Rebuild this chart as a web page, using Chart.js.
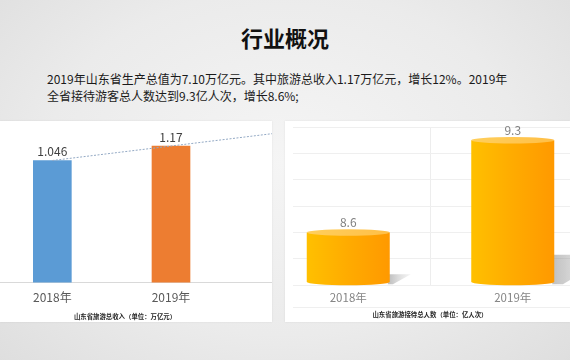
<!DOCTYPE html>
<html>
<head>
<meta charset="utf-8">
<script src="https://cdn.jsdelivr.net/npm/chart.js@4.4.1/dist/chart.umd.min.js"></script>
<style>
  html,body{margin:0;padding:0;}
  body{width:570px;height:360px;overflow:hidden;position:relative;
    background:radial-gradient(ellipse 70% 80% at 50% 45%, #f5f5f5 0%, #ebebeb 60%, #dedede 100%);
    font-family:"Noto Sans CJK SC","Noto Sans",sans-serif;}
  #title{position:absolute;left:0;width:570px;top:23px;text-align:center;font-size:22px;font-weight:bold;color:#111;line-height:28px;}
  #para{position:absolute;left:47px;top:70px;width:500px;font-size:12px;line-height:17px;color:#1a1a1a;}
  .panel{position:absolute;background:#fff;overflow:hidden;box-shadow:0 0 2px rgba(0,0,0,0.08);}
  #leftPanel{left:0;top:121px;width:272px;height:201px;}
  #rightPanel{left:285px;top:121px;width:285px;height:201px;}
  #leftCanvasWrap{position:absolute;left:-7px;top:4px;width:356px;height:188px;}
  #rightClip{position:absolute;left:8px;top:0;width:277px;height:201px;overflow:hidden;}
  #rightCanvasWrap{position:absolute;left:-27px;top:4px;width:329px;height:186px;}
  .cap{position:absolute;font-size:6.4px;font-weight:bold;color:#262626;white-space:nowrap;transform:translateX(-50%);}
  #rightLine{position:absolute;left:0;top:186px;width:277px;height:1px;background:#efefef;}
</style>
</head>
<body>
<div id="title">行业概况</div>
<div id="para">2019年山东省生产总值为7.10万亿元。其中旅游总收入1.17万亿元，增长12%。2019年<br>全省接待游客总人数达到9.3亿人次，增长8.6%;</div>

<div id="leftPanel" class="panel">
  <div id="leftCanvasWrap"><canvas id="leftChart" width="356" height="188"></canvas></div>
  <div class="cap" style="left:125px;top:191px;">山东省旅游总收入（单位：万亿元）</div>
</div>

<div id="rightPanel" class="panel">
  <div id="rightClip">
    <div id="rightLine"></div>
    <div id="rightCanvasWrap"><canvas id="rightChart" width="329" height="186"></canvas></div>
  </div>
  <div class="cap" style="left:145px;top:189px;">山东省旅游接待总人数（单位：亿人次）</div>
</div>

<script>
// ---- data ----
const incomeLabels = ['2018年', '2019年', ''];
const incomeValues = [1.046, 1.17, null];
const incomeValueText = ['1.046', '1.17'];
const incomeTrend = [1.046, 1.17, 1.294];

const visitorLabels = ['2018年', '2019年'];
const visitorValues = [8.6, 9.3];
const visitorValueText = ['8.6', '9.3'];

const FONT = '"Noto Sans CJK SC","Noto Sans",sans-serif';

// value labels plugin
function valueLabelPlugin(texts, color, offset, datasetIndex) {
  return {
    id: 'valueLabels',
    afterDatasetsDraw(chart) {
      const meta = chart.getDatasetMeta(datasetIndex);
      const ctx = chart.ctx;
      ctx.save();
      ctx.font = '12px ' + FONT;
      ctx.fillStyle = color;
      ctx.textAlign = 'center';
      ctx.textBaseline = 'bottom';
      meta.data.forEach((el, i) => {
        if (texts[i] == null) return;
        ctx.fillText(texts[i], el.x, el.y - offset);
      });
      ctx.restore();
    }
  };
}

// ---- left chart ----
new Chart(document.getElementById('leftChart'), {
  type: 'bar',
  data: {
    labels: incomeLabels,
    datasets: [
      {
        type: 'line',
        data: incomeTrend,
        borderColor: '#93a9c4',
        borderWidth: 1,
        borderDash: [2, 1.5],
        pointRadius: 0,
        fill: false,
        order: 0
      },
      {
        type: 'bar',
        data: incomeValues,
        backgroundColor: ['#5b9bd5', '#ed7d31'],
        borderWidth: 0,
        barThickness: 38,
        order: 1
      }
    ]
  },
  options: {
    responsive: false,
    animation: false,
    layout: { padding: 0 },
    plugins: { legend: { display: false }, tooltip: { enabled: false } },
    scales: {
      x: {
        grid: { display: false, drawTicks: false },
        border: { display: true, color: '#d9d9d9', width: 1 },
        ticks: { color: '#595959', font: { family: FONT, size: 12 }, padding: 8 }
      },
      y: { display: false, min: 0, max: 1.35 }
    }
  },
  plugins: [valueLabelPlugin(incomeValueText, '#404040', 3, 1)]
});

// ---- right chart (cylinders) ----
function barGeom(chart, el) {
  const base = Math.min(el.base, chart.chartArea.bottom);
  return { w: el.width, left: el.x - el.width / 2, right: el.x + el.width / 2, top: el.y, base: base, h: base - el.y };
}
const cylinderPlugin = {
  id: 'cylinders',
  beforeDatasetsDraw(chart) {
    const ctx = chart.ctx;
    const meta = chart.getDatasetMeta(0);
    ctx.save();
    meta.data.forEach(el => {
      const b = barGeom(chart, el);
      const g = ctx.createLinearGradient(b.right, 0, b.right + 0.4 * b.h, 0);
      g.addColorStop(0, 'rgba(120,120,120,0.45)');
      g.addColorStop(1, 'rgba(200,200,200,0.2)');
      ctx.fillStyle = g;
      ctx.beginPath();
      ctx.moveTo(b.right - 2, b.base - 0.21 * b.h);
      ctx.lineTo(b.right + 0.4 * b.h, b.base - 0.21 * b.h);
      ctx.lineTo(b.right + 0.06 * b.h, b.base - 1);
      ctx.lineTo(b.right - 2, b.base - 1);
      ctx.closePath();
      ctx.fill();
    });
    ctx.restore();
  },
  afterDatasetsDraw(chart) {
    const ctx = chart.ctx;
    const meta = chart.getDatasetMeta(0);
    ctx.save();
    meta.data.forEach(el => {
      const b = barGeom(chart, el);
      const ry = 3.2, rx = b.w / 2;
      const g = ctx.createLinearGradient(b.left, 0, b.right, 0);
      g.addColorStop(0, '#ffc000');
      g.addColorStop(0.5, '#ffab00');
      g.addColorStop(1, '#ff9900');
      ctx.fillStyle = g;
      ctx.beginPath();
      ctx.moveTo(b.left, b.top);
      ctx.lineTo(b.left, b.base - ry);
      ctx.ellipse(el.x, b.base - ry, rx, ry, 0, Math.PI, 0, true);
      ctx.lineTo(b.right, b.top);
      ctx.closePath();
      ctx.fill();
      const tg = ctx.createLinearGradient(b.left, 0, b.right, 0);
      tg.addColorStop(0, '#ffcf5c');
      tg.addColorStop(1, '#ffbf47');
      ctx.fillStyle = tg;
      ctx.beginPath();
      ctx.ellipse(el.x, b.top, rx, ry, 0, 0, Math.PI * 2);
      ctx.fill();
    });
    ctx.restore();
  }
};

new Chart(document.getElementById('rightChart'), {
  type: 'bar',
  data: {
    labels: visitorLabels,
    datasets: [{
      data: visitorValues,
      backgroundColor: 'rgba(0,0,0,0)',
      borderWidth: 0,
      barThickness: 83
    }]
  },
  options: {
    responsive: false,
    animation: false,
    layout: { padding: { top: 2 } },
    plugins: { legend: { display: false }, tooltip: { enabled: false } },
    scales: {
      x: {
        grid: { display: true, drawTicks: false, color: '#ededed', offset: true },
        border: { display: false },
        ticks: { color: '#858585', font: { family: FONT, size: 11.5 }, padding: 6 }
      },
      y: {
        min: 8.2, max: 9.4,
        ticks: { display: false, stepSize: 0.2 },
        grid: { color: '#efefef', drawTicks: false },
        border: { display: false }
      }
    }
  },
  plugins: [cylinderPlugin, valueLabelPlugin(visitorValueText, '#7f7f7f', 4, 0)]
});
</script>
</body>
</html>
